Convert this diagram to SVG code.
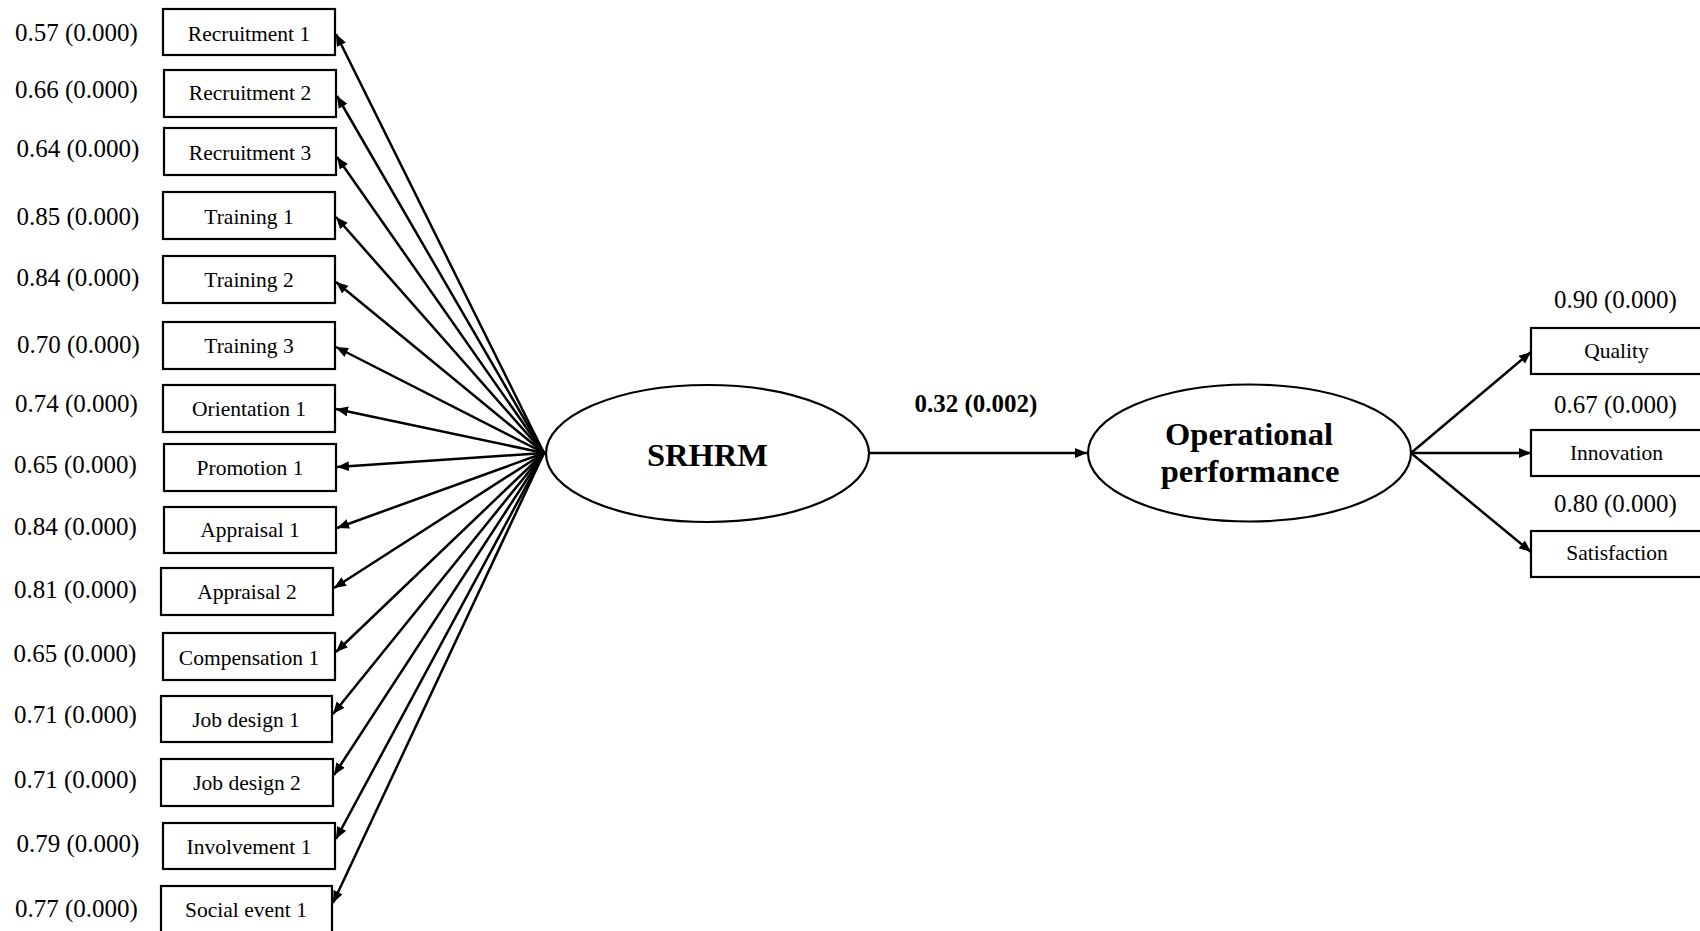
<svg xmlns="http://www.w3.org/2000/svg" width="1700" height="931" viewBox="0 0 1700 931">
<defs>
<style>
.box{fill:#fff;stroke:#000;stroke-width:2.2}
.lat{fill:#fff;stroke:#000;stroke-width:2.2}
.t{font-family:"Liberation Serif","Times New Roman",serif;font-size:21.5px;fill:#000;text-anchor:middle}
.lbl{font-family:"Liberation Serif","Times New Roman",serif;font-size:25px;fill:#000}
.big{font-family:"Liberation Serif","Times New Roman",serif;font-size:32.5px;font-weight:bold;fill:#000;text-anchor:middle}
.coef{font-family:"Liberation Serif","Times New Roman",serif;font-size:25px;font-weight:bold;fill:#000;text-anchor:middle}
.c{stroke:#000;stroke-width:2.5;fill:none;marker-end:url(#ah)}
</style>
<marker id="ah" markerUnits="userSpaceOnUse" markerWidth="14" markerHeight="11" refX="12" refY="5" orient="auto">
<path d="M0,0 L12,5 L0,10 z" fill="#000"/>
</marker>
</defs>
<rect width="1700" height="931" fill="#fff"/>

<g id="connectors">
<line class="c" x1="544" y1="453" x2="336" y2="34"/>
<line class="c" x1="544" y1="453" x2="337" y2="96"/>
<line class="c" x1="544" y1="453" x2="337" y2="157"/>
<line class="c" x1="544" y1="453" x2="336" y2="217"/>
<line class="c" x1="544" y1="453" x2="336" y2="282"/>
<line class="c" x1="544" y1="453" x2="336" y2="347"/>
<line class="c" x1="544" y1="453" x2="336" y2="409"/>
<line class="c" x1="544" y1="453" x2="337" y2="467"/>
<line class="c" x1="544" y1="453" x2="337" y2="528"/>
<line class="c" x1="544" y1="453" x2="334" y2="588"/>
<line class="c" x1="544" y1="453" x2="336" y2="652"/>
<line class="c" x1="544" y1="453" x2="333" y2="714"/>
<line class="c" x1="544" y1="453" x2="334" y2="775"/>
<line class="c" x1="544" y1="453" x2="336" y2="839"/>
<line class="c" x1="544" y1="453" x2="333" y2="903"/>
<line class="c" x1="869" y1="453" x2="1087" y2="453"/>
<line class="c" x1="1411" y1="453" x2="1531" y2="352"/>
<line class="c" x1="1411" y1="453" x2="1531" y2="453"/>
<line class="c" x1="1411" y1="453" x2="1531" y2="552"/>
<text class="coef" x="976" y="412">0.32 (0.002)</text>
</g>

<g id="srhrm">
<ellipse class="lat" cx="707.5" cy="453.5" rx="161.5" ry="68.5"/>
<text class="big" x="707.5" y="466">SRHRM</text>
</g>

<g id="operational-performance">
<ellipse class="lat" cx="1249.5" cy="453" rx="161.5" ry="68.5"/>
<text class="big" x="1249" y="445">Operational</text>
<text class="big" x="1250" y="482">performance</text>
</g>

<g id="recruitment1"><rect class="box" x="163" y="9" width="172" height="46"/><text class="t" x="249" y="41">Recruitment 1</text><text class="lbl" x="15" y="41">0.57 (0.000)</text></g>
<g id="recruitment2"><rect class="box" x="164" y="70" width="172" height="47"/><text class="t" x="250" y="100">Recruitment 2</text><text class="lbl" x="15" y="98">0.66 (0.000)</text></g>
<g id="recruitment3"><rect class="box" x="164" y="128" width="172" height="47"/><text class="t" x="250" y="160">Recruitment 3</text><text class="lbl" x="16.5" y="157">0.64 (0.000)</text></g>
<g id="training1"><rect class="box" x="163" y="192" width="172" height="47"/><text class="t" x="249" y="224">Training 1</text><text class="lbl" x="16.5" y="225">0.85 (0.000)</text></g>
<g id="training2"><rect class="box" x="163" y="256" width="172" height="47"/><text class="t" x="249" y="287">Training 2</text><text class="lbl" x="16.5" y="286">0.84 (0.000)</text></g>
<g id="training3"><rect class="box" x="163" y="322" width="172" height="47"/><text class="t" x="249" y="353">Training 3</text><text class="lbl" x="17" y="353">0.70 (0.000)</text></g>
<g id="orientation1"><rect class="box" x="163" y="385" width="172" height="47"/><text class="t" x="249" y="416">Orientation 1</text><text class="lbl" x="15" y="412">0.74 (0.000)</text></g>
<g id="promotion1"><rect class="box" x="164" y="444" width="172" height="47"/><text class="t" x="250" y="475">Promotion 1</text><text class="lbl" x="14" y="473">0.65 (0.000)</text></g>
<g id="appraisal1"><rect class="box" x="164" y="507" width="172" height="46"/><text class="t" x="250" y="537">Appraisal 1</text><text class="lbl" x="14" y="535">0.84 (0.000)</text></g>
<g id="appraisal2"><rect class="box" x="161" y="568" width="172" height="47"/><text class="t" x="247" y="599">Appraisal 2</text><text class="lbl" x="14" y="598">0.81 (0.000)</text></g>
<g id="compensation1"><rect class="box" x="163" y="633" width="172" height="47"/><text class="t" x="249" y="665">Compensation 1</text><text class="lbl" x="13.5" y="662">0.65 (0.000)</text></g>
<g id="jobdesign1"><rect class="box" x="161" y="696" width="171" height="46"/><text class="t" x="246" y="727">Job design 1</text><text class="lbl" x="14" y="723">0.71 (0.000)</text></g>
<g id="jobdesign2"><rect class="box" x="161" y="759" width="172" height="47"/><text class="t" x="247" y="790">Job design 2</text><text class="lbl" x="14" y="788">0.71 (0.000)</text></g>
<g id="involvement1"><rect class="box" x="163" y="823" width="172" height="46"/><text class="t" x="249" y="854">Involvement 1</text><text class="lbl" x="16.5" y="852">0.79 (0.000)</text></g>
<g id="socialevent1"><rect class="box" x="161" y="886" width="171" height="60"/><text class="t" x="246" y="917">Social event 1</text><text class="lbl" x="15" y="917">0.77 (0.000)</text></g>

<g id="quality"><rect class="box" x="1531" y="328" width="200" height="46"/><text class="t" x="1616.5" y="358">Quality</text><text class="lbl" x="1615.5" y="308" text-anchor="middle">0.90 (0.000)</text></g>
<g id="innovation"><rect class="box" x="1531" y="430" width="200" height="46"/><text class="t" x="1616.5" y="460">Innovation</text><text class="lbl" x="1615.5" y="413" text-anchor="middle">0.67 (0.000)</text></g>
<g id="satisfaction"><rect class="box" x="1531" y="531" width="200" height="46"/><text class="t" x="1617" y="560">Satisfaction</text><text class="lbl" x="1615.5" y="512" text-anchor="middle">0.80 (0.000)</text></g>
</svg>
